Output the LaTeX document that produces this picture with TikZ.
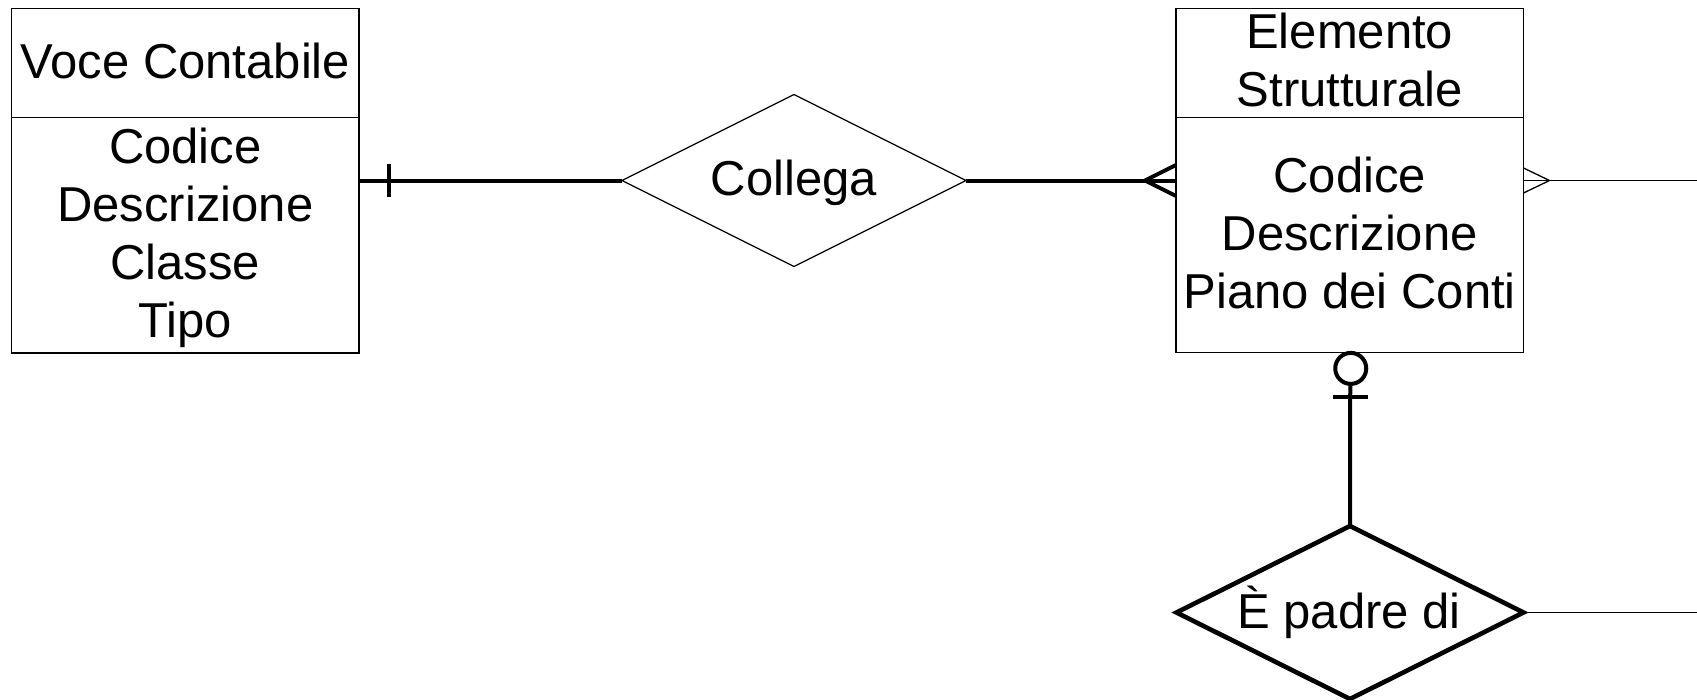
\documentclass[tikz,border=0pt]{standalone}
\usepackage{fontspec}
\setmainfont{Liberation Sans}
\usetikzlibrary{shapes.geometric,calc}

\tikzset{
  thinline/.style={line width=1.3pt},
  thickline/.style={line width=4pt},
  entbox/.style={draw, thinline, rectangle, inner sep=0pt, outer sep=0pt},
  relshape/.style={draw, diamond, inner sep=0pt, outer sep=0pt,
    minimum width=344pt, minimum height=172pt},
  lbl/.style={inner sep=0pt, outer sep=0pt, align=center,
    font=\fontsize{49}{58}\selectfont},
}

\begin{document}
\begin{tikzpicture}[x=1pt, y=-1pt, line join=miter]
  % page frame
  \useasboundingbox (0,0) rectangle (1697,699);

  % entity: Voce Contabile
  \node[entbox, minimum width=347.3pt, minimum height=344.7pt] (vc) at (185.35,180.5) {};
  \draw[thinline] ($(vc.north west)+(0,109)$) coordinate (vcl) -- (vcl -| vc.east);
  \node[lbl, anchor=base] (vct) at (185.35,78) {Voce Contabile};
  \node[lbl, anchor=north] (vca) at (185.35,127.5) {Codice\\Descrizione\\Classe\\Tipo};

  % entity: Elemento Strutturale
  \node[entbox, minimum width=347.5pt, minimum height=344.4pt] (es) at (1349.75,180.5) {};
  \draw[thinline] ($(es.north west)+(0,109.2)$) coordinate (esl) -- (esl -| es.east);
  \node[lbl, anchor=north] (est) at (1349.75,13) {Elemento\\Strutturale};
  \node[lbl, anchor=north] (esa) at (1349.75,156.5) {Codice\\Descrizione\\Piano dei Conti};

  % relationship: Collega
  \node[relshape, thinline] (col) at (794,180.5) {};
  \node[lbl, anchor=base] (colt) at (794,195) {Collega};

  % relationship: È padre di
  \node[relshape, line width=4.6pt, minimum width=347pt, minimum height=173pt] (pd) at (1350,612.5) {};
  \node[lbl, anchor=base] (pdt) at (1349,628) {È padre di};

  % free ends at the right margin
  \coordinate (out1) at (1697,180.5);
  \coordinate (out2) at (1697,612.5);

  % Voce Contabile -- Collega (exactly one)
  \draw[thickline] (vc.east) -- (col.west);
  \draw[thickline] ($(vc.east)+(30,-16.5)$) -- ($(vc.east)+(30,16.5)$);

  % Collega -- Elemento Strutturale (many)
  \draw[thickline] (col.east) -- (es.west);
  \draw[thickline] ($(es.west)+(0,-15.5)$) -- ($(es.west)+(-31,0)$) -- ($(es.west)+(0,15.5)$);

  % Elemento Strutturale -- right margin (many)
  \draw[thinline] (es.east) -- (out1);
  \draw[thinline] ($(es.east)+(0,-12.5)$) -- ($(es.east)+(26,0)$) -- ($(es.east)+(0,12.5)$);

  % Elemento Strutturale -- È padre di (zero or one)
  \draw[line width=4pt] ($(es.south)+(1,15.7)$) circle[radius=15.5pt];
  \draw[line width=4pt] ($(es.south)+(-16.5,44)$) -- ($(es.south)+(18.5,44)$);
  \draw[line width=4pt] ($(es.south)+(0.5,31.2)$) -- (pd.north);

  % È padre di -- right margin
  \draw[thinline] (pd.east) -- (out2);
\end{tikzpicture}
\end{document}
